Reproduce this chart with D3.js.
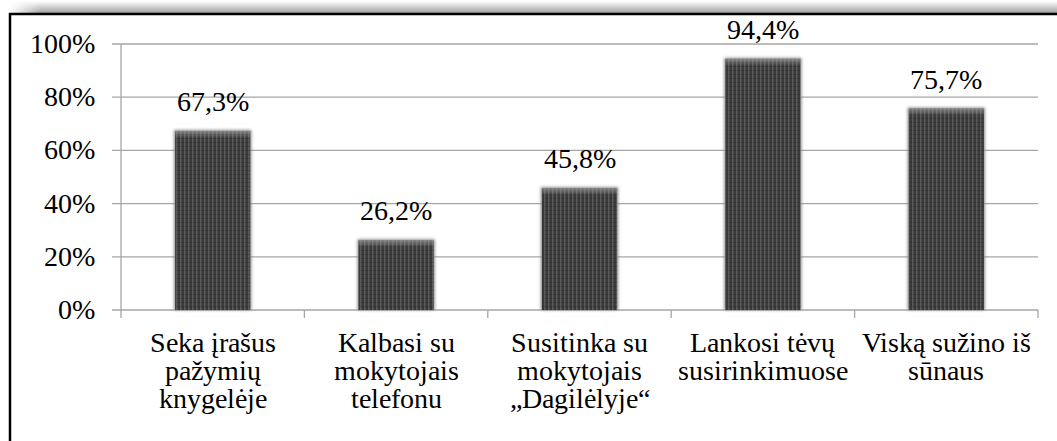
<!DOCTYPE html>
<html><head><meta charset="utf-8">
<script src="https://cdn.jsdelivr.net/npm/d3@7"></script>
<style>
@font-face { font-family: "ChartSerif"; src: local("Liberation Serif"), local("LiberationSerif"), local("Tinos"), local("Times New Roman"); }
html,body{margin:0;padding:0;background:#fff;}
svg{display:block;}
.t{font-family:"ChartSerif","Liberation Serif",Tinos,"Times New Roman",Times,serif !important;}
</style>
</head><body>
<svg id="chart" width="1057" height="441"></svg>
<script>
const categories = [
  ["Seka įrašus","pažymių","knygelėje"],
  ["Kalbasi su","mokytojais","telefonu"],
  ["Susitinka su","mokytojais","„Dagilėlyje“"],
  ["Lankosi tėvų","susirinkimuose"],
  ["Viską sužino iš","sūnaus"]
];
const values = [67.3, 26.2, 45.8, 94.4, 75.7];
const valueLabels = ["67,3%","26,2%","45,8%","94,4%","75,7%"];
const yTicks = [0, 20, 40, 60, 80, 100];

const svg = d3.select("#chart");
const fs = 28;
const defs = svg.append("defs");

const sg = defs.append("linearGradient").attr("id","topShadow").attr("x1",0).attr("y1",0).attr("x2",0).attr("y2",1);
sg.append("stop").attr("offset","0%").attr("stop-color","#fff");
sg.append("stop").attr("offset","100%").attr("stop-color","#9a9a9a");
const sgx = defs.append("linearGradient").attr("id","leftFade").attr("x1",0).attr("y1",0).attr("x2",1).attr("y2",0);
sgx.append("stop").attr("offset","0%").attr("stop-color","#fff").attr("stop-opacity",1);
sgx.append("stop").attr("offset","100%").attr("stop-color","#fff").attr("stop-opacity",0);

svg.append("rect").attr("x",10).attr("y",1).attr("width",1047).attr("height",13).attr("fill","url(#topShadow)");
svg.append("rect").attr("x",10).attr("y",1).attr("width",30).attr("height",13).attr("fill","url(#leftFade)");

svg.append("path").attr("d","M10,441 L10,14 L1057,14").attr("fill","none").attr("stroke","#000").attr("stroke-width",2.5);

const pat = defs.append("pattern").attr("id","stripes").attr("patternUnits","userSpaceOnUse").attr("width",4).attr("height",4);
pat.append("rect").attr("width",4).attr("height",4).attr("fill","#3a3a3a");
pat.append("rect").attr("x",0).attr("width",1.5).attr("height",4).attr("fill","#5c5c5c");
pat.append("rect").attr("x",0).attr("y",2).attr("width",4).attr("height",0.6).attr("fill","#2c2c2c").attr("opacity",0.6);
const bev = defs.append("linearGradient").attr("id","bevel").attr("x1",0).attr("y1",0).attr("x2",0).attr("y2",1);
bev.append("stop").attr("offset","0%").attr("stop-color","#bbb").attr("stop-opacity",0.55);
bev.append("stop").attr("offset","100%").attr("stop-color","#bbb").attr("stop-opacity",0);
const blur = defs.append("filter").attr("id","sh").attr("x","-20%").attr("y","-10%").attr("width","140%").attr("height","120%");
blur.append("feGaussianBlur").attr("stdDeviation",1.5);

const pl = 121, pr = 1038, pt = 44, pb = 310;
const x = d3.scaleBand().domain(d3.range(categories.length)).range([pl, pr]).padding(0);
const y = d3.scaleLinear().domain([0, 100]).range([pb, pt]);

svg.append("g").selectAll("line").data(yTicks).join("line")
  .attr("x1", pl - 9).attr("x2", pr)
  .attr("y1", d => y(d)).attr("y2", d => y(d))
  .attr("stroke", "#a6a6a6").attr("stroke-width", 1.3);

svg.append("line").attr("x1", pl).attr("x2", pl).attr("y1", pt).attr("y2", pb + 8)
  .attr("stroke", "#a6a6a6").attr("stroke-width", 1.3);
svg.append("g").selectAll("line").data(d3.range(1, categories.length + 1)).join("line")
  .attr("x1", i => pl + i * x.bandwidth()).attr("x2", i => pl + i * x.bandwidth())
  .attr("y1", pb).attr("y2", pb + 8)
  .attr("stroke", "#a6a6a6").attr("stroke-width", 1.3);

svg.append("g").selectAll("text").data(yTicks).join("text")
  .attr("class", "t")
  .attr("x", 95).attr("y", d => y(d) + 9)
  .attr("text-anchor", "end").attr("font-size", fs).attr("fill", "#000")
  .text(d => d + "%");

const bw = x.bandwidth() * 0.41;
const bars = svg.append("g");
values.forEach((v, i) => {
  const cx = x(i) + x.bandwidth() / 2;
  bars.append("rect").attr("x", cx - bw / 2 - 1).attr("y", y(v) - 1).attr("width", bw + 2).attr("height", pb - y(v) + 1)
    .attr("fill", "#888").attr("filter", "url(#sh)");
  bars.append("rect").attr("x", cx - bw / 2).attr("y", y(v)).attr("width", bw).attr("height", pb - y(v))
    .attr("fill", "url(#stripes)");
  bars.append("rect").attr("x", cx - bw / 2).attr("y", y(v)).attr("width", bw).attr("height", 7)
    .attr("fill", "url(#bevel)");
});

svg.append("g").selectAll("text").data(values).join("text")
  .attr("class", "t")
  .attr("x", (d, i) => x(i) + x.bandwidth() / 2).attr("y", d => y(d) - 20)
  .attr("text-anchor", "middle").attr("font-size", fs).attr("fill", "#000")
  .text((d, i) => valueLabels[i]);

const cg = svg.append("g");
categories.forEach((lines, i) => {
  const t = cg.append("text").attr("class", "t").attr("text-anchor", "middle").attr("font-size", fs).attr("fill", "#000");
  lines.forEach((ln, j) => {
    t.append("tspan").attr("x", x(i) + x.bandwidth() / 2).attr("y", 352 + j * 28).text(ln);
  });
});
</script>
</body></html>
